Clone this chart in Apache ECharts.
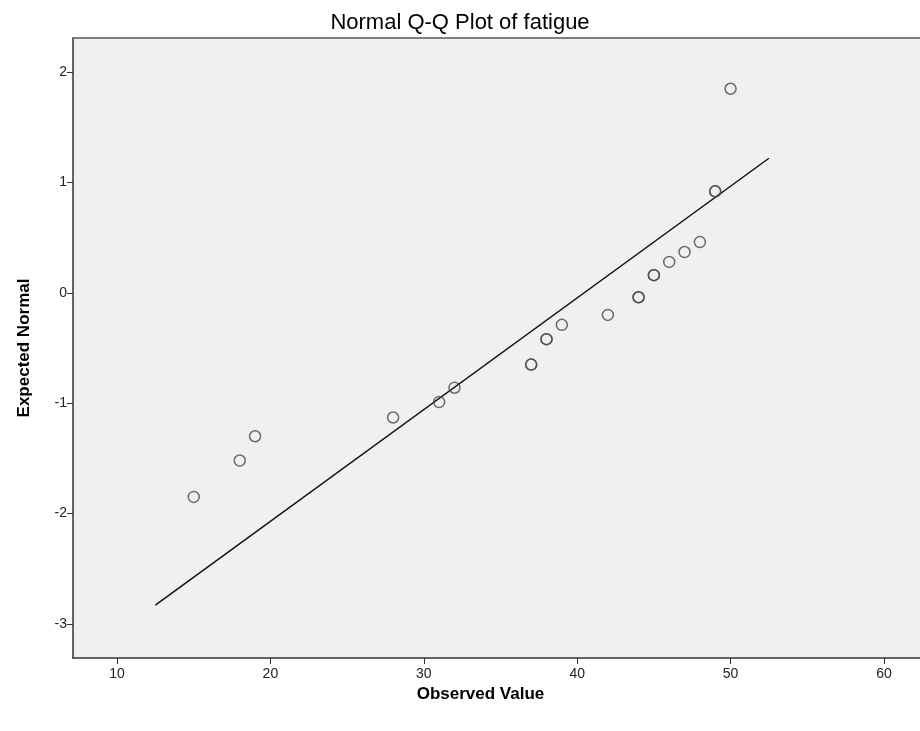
<!DOCTYPE html>
<html><head><meta charset="utf-8">
<script src="https://cdn.jsdelivr.net/npm/echarts@6/dist/echarts.min.js"></script>
<style>html,body{margin:0;padding:0;background:#fff}#c{width:920px;height:731px}</style>
</head><body><div id="c"></div>
<script>
var observed = [15, 18, 19, 28, 31, 32, 37, 37, 38, 38, 39, 42, 44, 44, 45, 45, 46, 47, 48, 49, 49, 50];
var expected = [-1.85, -1.52, -1.30, -1.13, -0.99, -0.86, -0.65, -0.65, -0.42, -0.42, -0.29, -0.20, -0.04, -0.04, 0.16, 0.16, 0.28, 0.37, 0.46, 0.92, 0.92, 1.85];
var lineX = [12.5, 52.5];
var lineY = [-2.83, 1.22];
var xTicks = [10, 20, 30, 40, 50, 60];
var yTicks = [-3, -2, -1, 0, 1, 2];

var pts = observed.map(function(v, i){ return [v, expected[i]]; });
var linePts = lineX.map(function(v, i){ return [v, lineY[i]]; });
var font = '"Liberation Sans", Arial, sans-serif';
var chart = echarts.init(document.getElementById('c'));
chart.setOption({
  animation: false,
  backgroundColor: '#fff',
  title: {
    text: 'Normal Q-Q Plot of fatigue', left: 'center', top: 7,
    textStyle: {fontFamily: font, fontSize: 22, fontWeight: 'normal', color: '#000'}
  },
  grid: {left: 73, right: 0, top: 38, bottom: 73, show: true, backgroundColor: '#f0f0f0', borderWidth: 0},
  xAxis: [{
    type: 'value', min: 7.13, max: 62.35,
    name: 'Observed Value', nameLocation: 'middle', nameGap: 23,
    nameTextStyle: {fontFamily: font, fontSize: 17, fontWeight: 'bold', color: '#000', padding: [0, 32, 0, 0]},
    axisLine: {show: true, onZero: false, lineStyle: {color: '#333', width: 1.5}},
    axisTick: {show: true, length: 6, customValues: xTicks, lineStyle: {color: '#333'}},
    axisLabel: {customValues: xTicks, fontFamily: font, fontSize: 14, color: '#222', margin: 9},
    splitLine: {show: false}
  }, {
    type: 'value', position: 'top', min: 7.13, max: 62.35,
    axisLine: {show: true, onZero: false, lineStyle: {color: '#555', width: 1.5}},
    axisTick: {show: false}, axisLabel: {show: false}, splitLine: {show: false}
  }],
  yAxis: {
    type: 'value', min: -3.31, max: 2.31,
    name: 'Expected Normal', nameLocation: 'middle', nameGap: 40, nameRotate: 90,
    nameTextStyle: {fontFamily: font, fontSize: 17, fontWeight: 'bold', color: '#000'},
    axisLine: {show: true, onZero: false, lineStyle: {color: '#333', width: 1.5}},
    axisTick: {show: true, length: 6, customValues: yTicks, lineStyle: {color: '#333'}},
    axisLabel: {customValues: yTicks, fontFamily: font, fontSize: 14, color: '#222', margin: 6},
    splitLine: {show: false}
  },
  series: [
    {type: 'line', data: linePts, symbol: 'none', lineStyle: {color: '#111', width: 1.5}, z: 2},
    {type: 'scatter', data: pts, symbol: 'circle', symbolSize: 11,
     itemStyle: {color: 'rgba(0,0,0,0)', borderColor: '#4a4a4a', borderWidth: 1.5}, z: 3}
  ]
});
</script></body></html>
